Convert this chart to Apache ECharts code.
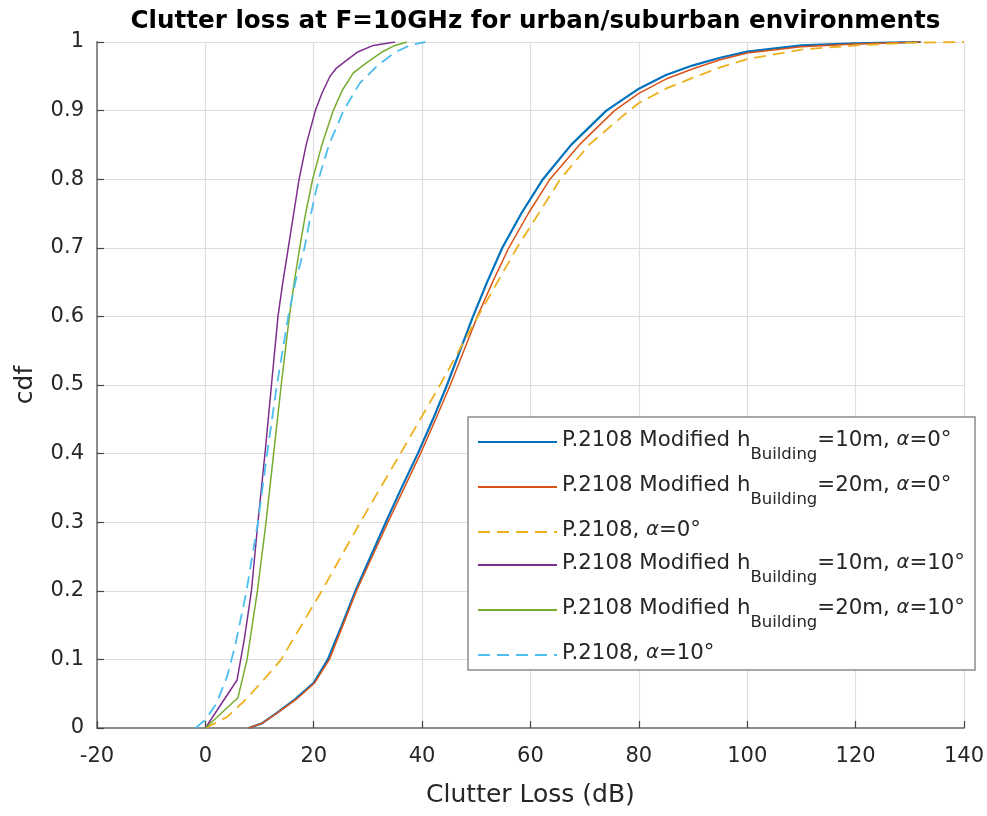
<!DOCTYPE html>
<html>
<head>
<meta charset="utf-8">
<title>Clutter loss CDF</title>
<script src="https://cdn.jsdelivr.net/npm/echarts@6/dist/echarts.min.js"></script>
<style>
  html, body { margin: 0; padding: 0; background: #ffffff; }
  #chart { width: 987px; height: 816px; }
</style>
</head>
<body>
<div id="chart"></div>
<script>
// Clutter loss (dB) vs cdf, pairs of [loss, cdf]
const modH10Alpha0 = [[8,0],[10.5,0.007],[13.2,0.022],[16.6,0.042],[20,0.066],[22.6,0.1],[25.2,0.15],[27.7,0.2],[30.5,0.25],[33.3,0.3],[36.2,0.35],[39.2,0.4],[42,0.45],[44.6,0.5],[47,0.55],[49.4,0.6],[52,0.65],[54.8,0.7],[58.3,0.75],[62.3,0.8],[67.5,0.85],[74,0.9],[80,0.932],[85,0.952],[90,0.966],[95,0.977],[100,0.986],[110,0.995],[120,0.998],[132,1]];
const modH20Alpha0 = [[8,0],[10.5,0.007],[13.3,0.022],[16.8,0.042],[20.2,0.066],[22.9,0.1],[25.4,0.15],[27.9,0.2],[30.8,0.25],[33.7,0.3],[36.7,0.35],[39.7,0.4],[42.5,0.45],[45.2,0.5],[47.7,0.55],[50.2,0.6],[53,0.65],[56,0.7],[59.6,0.75],[63.6,0.8],[69,0.85],[75.5,0.9],[80,0.925],[85,0.946],[90,0.961],[95,0.974],[100,0.984],[110,0.993],[120,0.997],[132,1]];
const p2108Alpha0 = [[0,0],[4,0.016],[7,0.038],[10.2,0.065],[14,0.1],[21.5,0.2],[28.6,0.3],[36,0.4],[43.3,0.5],[50.3,0.6],[57.5,0.7],[65.5,0.8],[70.8,0.85],[77,0.892],[80,0.911],[85,0.932],[90,0.948],[95,0.963],[100,0.975],[110,0.989],[120,0.995],[130,0.999],[140,1]];
const modH10Alpha10 = [[0,0],[5.85,0.07],[7.2,0.13],[8.5,0.2],[9.7,0.3],[11,0.4],[12.2,0.5],[13.4,0.6],[14.3,0.65],[15.3,0.7],[16.3,0.75],[17.3,0.8],[18.6,0.85],[20.3,0.9],[21.5,0.925],[23,0.95],[24.2,0.962],[25.5,0.97],[28,0.985],[31,0.995],[35,1]];
const modH20Alpha10 = [[0,0],[6,0.044],[7.7,0.1],[9.6,0.2],[11.2,0.3],[12.6,0.4],[14,0.5],[15.5,0.6],[16.4,0.65],[17.4,0.7],[18.5,0.75],[19.8,0.8],[21.5,0.85],[23.6,0.9],[25.3,0.93],[27.3,0.955],[29.8,0.97],[32.5,0.985],[35,0.995],[37.2,1]];
const p2108Alpha10 = [[-1.8,0],[0,0.012],[2,0.035],[4,0.075],[5.5,0.12],[7.6,0.2],[9.7,0.3],[11.4,0.4],[13.2,0.5],[15.3,0.6],[16.6,0.65],[18.3,0.7],[19.5,0.75],[20.9,0.8],[22.8,0.85],[25.5,0.9],[28.5,0.94],[31.7,0.965],[35,0.985],[38,0.996],[40.6,1]];

const seriesNames = [
  'P.2108 Modified hBuilding=10m, α=0°',
  'P.2108 Modified hBuilding=20m, α=0°',
  'P.2108, α=0°',
  'P.2108 Modified hBuilding=10m, α=10°',
  'P.2108 Modified hBuilding=20m, α=10°',
  'P.2108, α=10°'
];
// legend labels with the "Building" subscript and the alpha symbol
const legendLabels = [
  '{t|P.2108 Modified h}{sub|Building}{t|=10m, }{al|α}{t|=0°}',
  '{t|P.2108 Modified h}{sub|Building}{t|=20m, }{al|α}{t|=0°}',
  '{t|P.2108, }{al|α}{t|=0°}',
  '{t|P.2108 Modified h}{sub|Building}{t|=10m, }{al|α}{t|=10°}',
  '{t|P.2108 Modified h}{sub|Building}{t|=20m, }{al|α}{t|=10°}',
  '{t|P.2108, }{al|α}{t|=10°}'
];
const seriesData = [modH10Alpha0, modH20Alpha0, p2108Alpha0, modH10Alpha10, modH20Alpha10, p2108Alpha10];
const seriesColors = ['#0072BD', '#D95319', '#EDB120', '#7E2F8E', '#77AC30', '#4DBEEE'];
const seriesWidths = [2.2, 1.5, 1.8, 1.5, 1.5, 1.8];
const seriesDashed = [false, false, true, false, false, true];

const FONT = 'DejaVu Sans';
const TEXT = '#262626';

const chart = echarts.init(document.getElementById('chart'), null, { renderer: 'canvas' });

const series = seriesNames.map((name, i) => ({
  name: name,
  type: 'line',
  data: seriesData[i],
  showSymbol: false,
  symbol: 'none',
  smooth: false,
  lineStyle: {
    color: seriesColors[i],
    width: seriesWidths[i],
    type: seriesDashed[i] ? [12, 7] : 'solid'
  },
  itemStyle: { color: seriesColors[i] },
  emphasis: { disabled: true },
  z: 2 + i
}));

chart.setOption({
  animation: false,
  backgroundColor: '#ffffff',
  title: {
    text: 'Clutter loss at F=10GHz for urban/suburban environments',
    left: 530.5,
    top: 4,
    textAlign: 'center',
    textStyle: { fontFamily: FONT, fontWeight: 'bold', fontSize: 24.6, color: '#000000' }
  },
  grid: { left: 97, right: 23, top: 42, bottom: 88, containLabel: false },
  legend: {
    orient: 'vertical',
    left: 468,
    top: 417,
    padding: [13, 10, 6, 9],
    itemWidth: 79,
    itemHeight: 14,
    itemGap: 12,
    selectedMode: false,
    // only the line sample is kept; the marker dot is hidden
    itemStyle: { color: 'rgba(0,0,0,0)', borderWidth: 0, opacity: 0 },
    backgroundColor: '#ffffff',
    borderColor: '#8c8c8c',
    borderWidth: 1.5,
    borderRadius: 0,
    data: seriesNames,
    formatter: function (name) { return legendLabels[seriesNames.indexOf(name)]; },
    textStyle: {
      color: TEXT,
      rich: {
        t: { fontFamily: FONT, fontSize: 21.3, color: TEXT, lineHeight: 24, verticalAlign: 'top' },
        al: { fontFamily: FONT, fontSize: 19.5, fontStyle: 'italic', color: TEXT, lineHeight: 24, verticalAlign: 'top' },
        sub: { fontFamily: FONT, fontSize: 16.5, color: TEXT, lineHeight: 16, verticalAlign: 'top', padding: [16, 0, 0, 0] }
      }
    }
  },
  xAxis: {
    type: 'value',
    min: -20,
    max: 140,
    interval: 20,
    name: 'Clutter Loss (dB)',
    nameLocation: 'middle',
    nameGap: 55,
    nameTextStyle: { fontFamily: FONT, fontSize: 25, color: TEXT },
    axisLine: { show: true, onZero: false, lineStyle: { color: '#8c8c8c', width: 2 } },
    axisTick: { show: true, inside: true, length: 7, lineStyle: { color: '#444444', width: 1.2 } },
    axisLabel: { fontFamily: FONT, fontSize: 21, color: TEXT, margin: 18 },
    splitLine: { show: true, lineStyle: { color: '#dedede', width: 1.2 } }
  },
  yAxis: {
    type: 'value',
    min: 0,
    max: 1,
    interval: 0.1,
    name: 'cdf',
    nameLocation: 'middle',
    nameGap: 59,
    nameTextStyle: { fontFamily: FONT, fontSize: 25, color: TEXT },
    axisLine: { show: true, onZero: false, lineStyle: { color: '#8c8c8c', width: 2 } },
    axisTick: { show: true, inside: true, length: 7, lineStyle: { color: '#444444', width: 1.2 } },
    axisLabel: { fontFamily: FONT, fontSize: 21, color: TEXT, margin: 13 },
    splitLine: { show: true, lineStyle: { color: '#dedede', width: 1.2 } }
  },
  series: series
});
</script>
</body>
</html>
